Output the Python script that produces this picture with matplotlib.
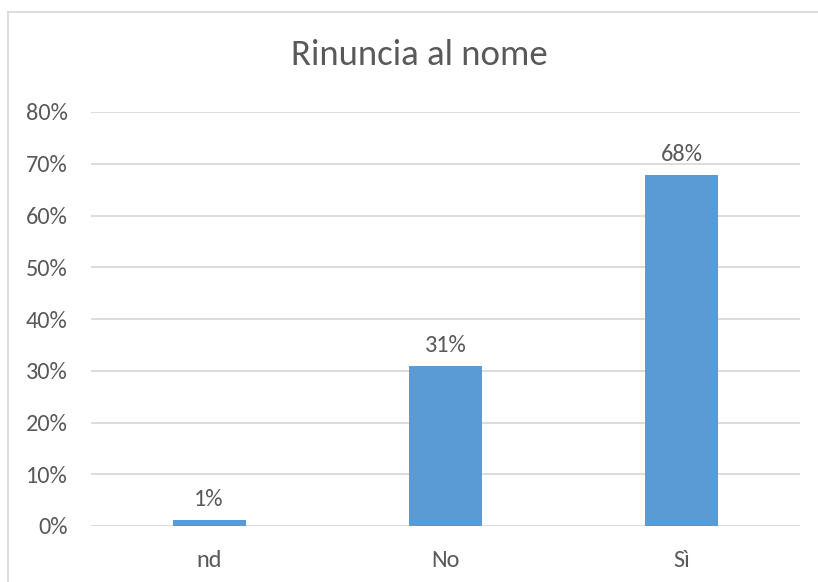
import matplotlib.pyplot as plt
from matplotlib.lines import Line2D

# Dati
categories = ["nd", "No", "Sì"]
values = [0.012, 0.309, 0.679]
value_labels = ["1%", "31%", "68%"]
y_ticks = [0, 0.1, 0.2, 0.3, 0.4, 0.5, 0.6, 0.7, 0.8]
y_tick_labels = ["0%", "10%", "20%", "30%", "40%", "50%", "60%", "70%", "80%"]

plt.rcParams["font.family"] = ["Carlito", "Liberation Sans", "DejaVu Sans"]

text_col = "#595959"
grid_col = "#D9D9D9"
bar_col = "#5B9BD5"

fig = plt.figure(figsize=(8.18, 5.82), dpi=100)
fig.patch.set_facecolor("white")
ax = fig.add_axes([91 / 818, 56 / 582, 709 / 818, 414 / 582])

x = range(len(categories))
bars = ax.bar(x, values, width=0.31, color=bar_col, zorder=3)

for b, lab in zip(bars, value_labels):
    ax.annotate(lab, (b.get_x() + b.get_width() / 2, b.get_height()),
                xytext=(0, 7), textcoords="offset points",
                ha="center", va="bottom", fontsize=17.5, color=text_col)

ax.set_xlim(-0.5, 2.5)
ax.set_ylim(0, 0.8)
ax.set_yticks(y_ticks)
ax.set_yticklabels(y_tick_labels)
ax.set_xticks(list(x))
ax.set_xticklabels(categories)
ax.tick_params(axis="both", length=0, labelsize=17.5, labelcolor=text_col)
ax.tick_params(axis="y", pad=17)
ax.tick_params(axis="x", pad=17)
ax.grid(axis="y", color=grid_col, linewidth=1.3, zorder=0)
for s in ax.spines.values():
    s.set_visible(False)

fig.text(419 / 818, 1 - 55 / 582, "Rinuncia al nome", ha="center", va="center",
         fontsize=26.5, color=text_col)

# bordo del grafico
fig.add_artist(Line2D([8 / 818, 8 / 818], [0, 1 - 12 / 582], transform=fig.transFigure,
                      color=grid_col, linewidth=1.3))
fig.add_artist(Line2D([8 / 818, 1], [1 - 12 / 582, 1 - 12 / 582], transform=fig.transFigure,
                      color=grid_col, linewidth=1.3))

fig.savefig("out.png", dpi=100)
